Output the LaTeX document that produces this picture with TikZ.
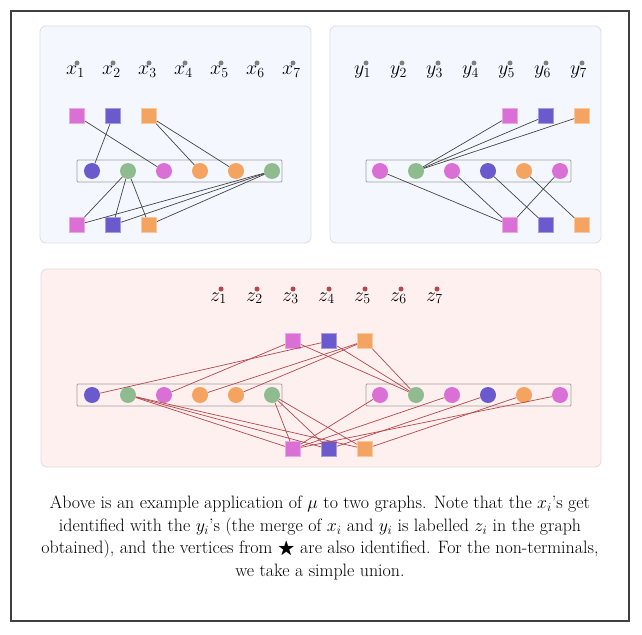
\RequirePackage{fix-cm}
\documentclass[tikz,border=0pt]{standalone}
\usepackage{amsthm,amsfonts,amssymb,amsmath}
\usepackage{tikz}

\definecolor{vpink}{HTML}{DA70D6}
\definecolor{vblue}{HTML}{6A5ACD}
\definecolor{vorange}{HTML}{F4A460}
\definecolor{vgreen}{HTML}{8FBC8F}
\definecolor{edgeblack}{HTML}{444444}
\definecolor{edgered}{HTML}{B5474D}
\definecolor{panelblue}{HTML}{F4F8FE}
\definecolor{panelred}{HTML}{FEF0EE}
\definecolor{panelline}{HTML}{DCDCDC}

\begin{document}
\begin{tikzpicture}[x=1bp,y=-1bp,
		vert/.style={circle,inner sep=0pt,minimum size=16bp,fill=#1},
		sq/.style={rectangle,inner sep=0pt,minimum size=15bp,fill=#1,draw=#1!60!white,line width=0.8bp},
		panel/.style={draw=panelline,line width=0.8bp,rounded corners=6bp},
		group/.style={draw=gray!75,line width=0.8bp,rounded corners=1bp},
		lbl/.style={font=\fontsize{20}{20}\selectfont,inner sep=0pt,anchor=base west},
		tdot/.style={circle,inner sep=0pt,minimum size=5bp,fill=#1},
		edge/.style={draw=edgeblack,line width=0.7bp},
		redge/.style={draw=edgered,line width=0.7bp}]
		\useasboundingbox (0,0) rectangle (642,635);
		\draw[line width=1.2bp,black!75] (11,11) rectangle (629,621);
		\draw[panel,fill=panelblue] (40,26) rectangle (311,243);
		\draw[panel,fill=panelblue] (330,26) rectangle (601,243);
		\draw[panel,fill=panelred] (41,269) rectangle (601,467);
		\draw[group] (77,160) rectangle (282,182);
		\draw[group] (366,160) rectangle (571,182);
		\draw[group] (77,384) rectangle (282,406);
		\draw[group] (366,384) rectangle (571,406);
		\foreach \i in {1,...,7} {
			\node[lbl] (xl\i) at (30+36*\i,75) {$x_{\i}$};
			\node[tdot=gray] (xd\i) at (41+36*\i,63) {};
			\node[lbl] (yl\i) at (318+36*\i,75) {$y_{\i}$};
			\node[tdot=gray] (yd\i) at (330+36*\i,63) {};
			\node[lbl] (zl\i) at (174+36*\i,301) {$z_{\i}$};
			\node[tdot=edgered] (zd\i) at (185+36*\i,289) {};
		}
		\foreach \c [count=\i] in {vpink,vblue,vorange} {
			\node[sq=\c] (xs\i) at (41+36*\i,116) {};
			\node[sq=\c] (xb\i) at (41+36*\i,225) {};
			\node[sq=\c] (ys\i) at (474+36*\i,116) {};
			\node[sq=\c] (yb\i) at (474+36*\i,225) {};
			\node[sq=\c] (zs\i) at (257+36*\i,341) {};
			\node[sq=\c] (zb\i) at (257+36*\i,449) {};
		}
		\foreach \c [count=\i] in {vblue,vgreen,vpink,vorange,vorange,vgreen} {
			\node[vert=\c] (xc\i) at (56+36*\i,171) {};
			\node[vert=\c] (zl\i) at (56+36*\i,395) {};
		}
		\foreach \c [count=\i] in {vpink,vgreen,vpink,vblue,vorange,vpink} {
			\node[vert=\c] (yc\i) at (344+36*\i,171) {};
			\node[vert=\c] (zr\i) at (344+36*\i,395) {};
		}
		\foreach \a/\b in {s1/c3,s2/c1,s3/c4,s3/c5,c2/b1,c2/b2,c2/b3,c6/b1,c6/b2,c6/b3}
			\draw[edge] (x\a) -- (x\b);
		\foreach \a/\b in {c2/s1,c2/s2,c2/s3,c1/b1,c3/b1,c4/b2,c5/b3,c6/b1}
			\draw[edge] (y\a) -- (y\b);
		\foreach \a/\b in {s1/l3,s2/l1,s3/l4,s3/l5,l2/b1,l2/b2,l2/b3,l6/b1,l6/b2,l6/b3,
				r2/s1,r2/s2,r2/s3,r1/b1,r3/b1,r4/b2,r5/b3,r6/b1}
			\draw[redge] (z\a) -- (z\b);
		\node[font=\fontsize{18}{22.5}\selectfont,align=center,inner sep=0pt] (caption) at (320,538)
			{Above is an example application of $\mu$ to two graphs. Note that the $x_i$'s get\\
			identified with the $y_i$'s (the merge of $x_i$ and $y_i$ is labelled $z_i$ in the graph\\
			obtained), and the vertices from $\bigstar$ are also identified. For the non-terminals,\\
			we take a simple union.};
	\end{tikzpicture}
\end{document}
